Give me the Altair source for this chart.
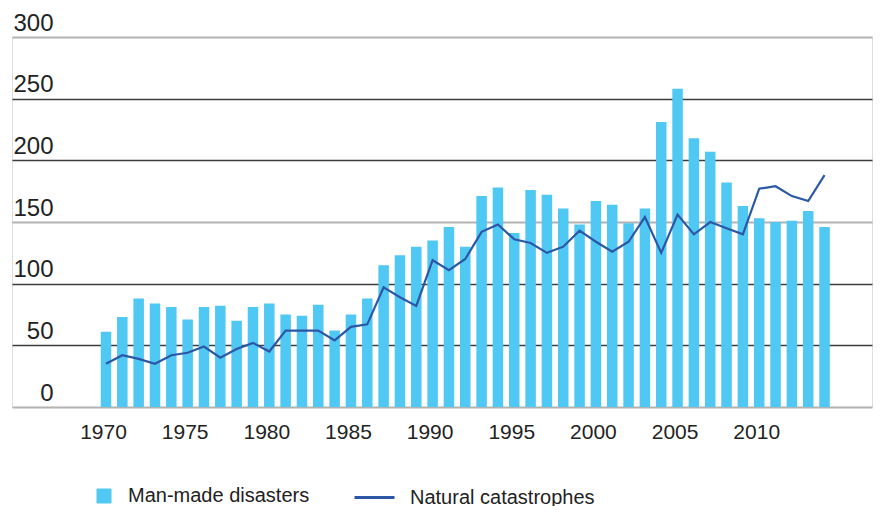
import altair as alt
import pandas as pd

years = list(range(1970, 2015))
man_made = [61, 73, 88, 84, 81, 71, 81, 82, 70, 81,
            84, 75, 74, 83, 62, 75, 88, 115, 123, 130,
            135, 146, 130, 171, 178, 141, 176, 172, 161, 148,
            167, 164, 149, 161, 231, 258, 218, 207, 182, 163,
            153, 150, 151, 159, 146]
natural = [35, 42, 39, 35, 42, 44, 49, 40, 47, 52,
           45, 62, 62, 62, 54, 65, 67, 97, 89, 82,
           119, 111, 120, 142, 148, 136, 133, 125, 130, 143,
           134, 126, 134, 154, 125, 156, 140, 150, 145, 140,
           177, 179, 171, 167, 188]
series_names = ["Man-made disasters", "Natural catastrophes"]
x_ticks = [1970, 1975, 1980, 1985, 1990, 1995, 2000, 2005, 2010]
y_ticks = [0, 50, 100, 150, 200, 250, 300]

bars_df = pd.DataFrame({"year": years, "value": man_made, "series": series_names[0]})
line_df = pd.DataFrame({"year": years, "value": natural, "series": series_names[1]})

FONT = "Liberation Sans"
BAR_COLOR = "#4fc8f3"
LINE_COLOR = "#2c56a6"

x_scale = alt.Scale(domain=[1964.55, 2016.6], nice=False, zero=False)
y_scale = alt.Scale(domain=[0, 300], nice=False)

gray_test = "datum.value === 0 || datum.value === 150 || datum.value === 300"

x_axis = alt.Axis(values=x_ticks, format="d", title=None, grid=False, ticks=False,
                  domain=False, labelFontSize=21, labelFont=FONT, labelColor="#222",
                  labelPadding=14, labelOffset=-3, labelFlush=False)
y_axis = alt.Axis(values=y_ticks, title=None, ticks=False, tickSize=0, domain=False,
                  grid=True,
                  gridColor={"condition": {"test": gray_test, "value": "#b2b2b2"}, "value": "#3c3c3c"},
                  gridWidth={"condition": {"test": gray_test, "value": 2}, "value": 1.5},
                  labelAlign="right", labelBaseline="alphabetic", labelPadding=-41,
                  labelOffset=-7, labelFontSize=24, labelFont=FONT, labelColor="#222",
                  labelFlush=False)

bars = alt.Chart(bars_df).mark_bar(size=10.5).encode(
    x=alt.X("year:Q", scale=x_scale, axis=x_axis),
    y=alt.Y("value:Q", scale=y_scale, axis=y_axis),
    fill=alt.Fill("series:N",
                  scale=alt.Scale(domain=[series_names[0]], range=[BAR_COLOR]),
                  legend=alt.Legend(title=None, orient="none", legendX=82, legendY=449,
                                    symbolType="square", symbolSize=225, symbolStrokeWidth=0,
                                    labelFontSize=20, labelFont=FONT, labelColor="#222",
                                    labelOffset=14, labelLimit=0, padding=0)),
)

line = alt.Chart(line_df).mark_line(strokeWidth=2.2).encode(
    x=alt.X("year:Q", scale=x_scale),
    y=alt.Y("value:Q", scale=y_scale),
    stroke=alt.Stroke("series:N",
                      scale=alt.Scale(domain=[series_names[1]], range=[LINE_COLOR]),
                      legend=alt.Legend(title=None, orient="none", legendX=341, legendY=439,
                                        symbolType="stroke", symbolSize=1600, symbolStrokeWidth=3,
                                        labelFontSize=20, labelFont=FONT, labelColor="#222",
                                        labelOffset=14, labelLimit=0, padding=0)),
)

chart = alt.layer(bars, line).properties(
    width=860, height=370,
    autosize=alt.AutoSizeParams(type="none"),
    padding={"left": 4, "top": 29, "right": 1, "bottom": 99},
).configure_view(stroke=None).configure(background="white")

chart.save("out.html", embed_options={"renderer": "svg", "actions": False})
